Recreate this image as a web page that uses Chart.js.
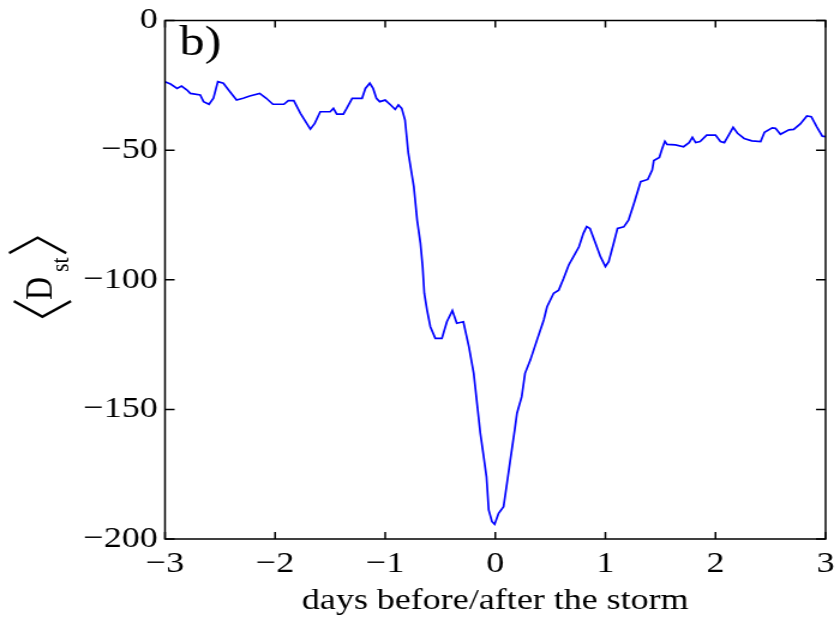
<!DOCTYPE html>
<html>
<head>
<meta charset="utf-8">
<script src="https://cdn.jsdelivr.net/npm/chart.js@4.4.1/dist/chart.umd.min.js"></script>
<style>
  html, body { margin: 0; padding: 0; background: #fff; overflow: hidden; }
  /* the reference is a slightly widened figure, so the canvas is stretched sideways */
  #chart { display: block; transform: scaleX(1.2); transform-origin: 0 0; }
</style>
</head>
<body>
<canvas id="chart" width="697" height="623"></canvas>
<script>
// days relative to storm onset
const days = [
  -3.00, -2.95, -2.89, -2.85, -2.80, -2.77, -2.68, -2.65, -2.60, -2.56,
  -2.52, -2.47, -2.41, -2.35, -2.29, -2.23, -2.14, -2.08, -2.02, -1.92,
  -1.88, -1.83, -1.77, -1.68, -1.64, -1.59, -1.50, -1.47, -1.44, -1.38,
  -1.35, -1.30, -1.21, -1.18, -1.14, -1.11, -1.08, -1.05, -1.00, -0.95,
  -0.91, -0.88, -0.85, -0.82, -0.79, -0.74, -0.71, -0.68, -0.66, -0.645,
  -0.62, -0.59, -0.545, -0.485, -0.44, -0.39, -0.35, -0.29, -0.24, -0.196,
  -0.166, -0.136, -0.11, -0.08, -0.06, -0.03, -0.006, 0.03, 0.075, 0.106,
  0.145, 0.176, 0.197, 0.24, 0.27, 0.318, 0.379, 0.44, 0.47, 0.53,
  0.576, 0.62, 0.667, 0.71, 0.76, 0.80, 0.83, 0.86, 0.91, 0.955,
  1.00, 1.03, 1.075, 1.11, 1.167, 1.21, 1.26, 1.32, 1.385, 1.425,
  1.44, 1.49, 1.515, 1.54, 1.56, 1.636, 1.71, 1.76, 1.79, 1.82,
  1.86, 1.92, 2.00, 2.045, 2.08, 2.12, 2.16, 2.20, 2.26, 2.33,
  2.41, 2.445, 2.515, 2.545, 2.59, 2.667, 2.71, 2.77, 2.83, 2.87,
  2.92, 2.97, 3.00
];

// mean Dst (nT)
const dst = [
  -23.6, -24.5, -26.2, -25.3, -26.8, -28.1, -28.7, -31.3, -32.3, -30.0,
  -23.6, -24.2, -27.5, -30.7, -30.0, -29.1, -28.1, -30.0, -32.3, -32.3,
  -30.9, -30.9, -35.8, -41.9, -39.7, -35.2, -35.2, -33.9, -36.1, -36.1,
  -33.9, -30.0, -30.0, -26.2, -24.2, -26.2, -30.0, -31.3, -30.7, -32.6,
  -34.3, -32.6, -33.9, -38.4, -51.2, -64.1, -77.0, -85.9, -95.0, -105.2,
  -111.7, -118.1, -122.6, -122.6, -116.2, -111.9, -116.8, -116.2, -125.8, -136.1,
  -147.7, -159.2, -166.9, -176.0, -188.8, -193.3, -194.3, -190.1, -187.5, -178.5,
  -167.0, -158.0, -151.5, -145.1, -136.1, -131.0, -123.2, -115.5, -110.4, -105.2,
  -104.0, -99.5, -94.3, -91.1, -87.3, -82.1, -79.5, -80.2, -85.9, -91.1,
  -94.9, -93.0, -85.9, -80.2, -79.6, -77.0, -70.5, -62.2, -61.3, -57.7,
  -54.0, -52.8, -49.5, -46.6, -47.8, -48.0, -48.7, -47.1, -45.1, -47.1,
  -46.7, -44.2, -44.2, -46.7, -47.1, -44.2, -41.2, -43.5, -45.5, -46.4,
  -46.7, -43.1, -41.4, -41.6, -43.9, -42.2, -42.0, -39.9, -36.8, -37.1,
  -41.0, -44.6, -44.8
];

const xTicks = [-3, -2, -1, 0, 1, 2, 3];
const yTicks = [0, -50, -100, -150, -200];
const xTitle = "days before/after the storm";
const panelLabel = "b)";

const serif = '"Liberation Serif", "Times New Roman", serif';

// draw one glyph so that its ink fills the box [x0,x1] x [y0,y1]
function fitGlyph(ctx, ch, weight, family, x0, x1, y0, y1) {
    ctx.font = weight + " 100px " + family;
    let m = ctx.measureText(ch);
    const h = m.actualBoundingBoxAscent + m.actualBoundingBoxDescent;
    const size = 100 * (y1 - y0) / h;
    ctx.font = weight + " " + size.toFixed(1) + "px " + family;
    m = ctx.measureText(ch);
    const w = m.actualBoundingBoxLeft + m.actualBoundingBoxRight;
    const cx = (x0 + x1) / 2;
    ctx.fillText(ch, cx - w / 2 + m.actualBoundingBoxLeft, y0 + m.actualBoundingBoxAscent);
}

// box, inward ticks, panel label and the <D_st> axis label
const framePlugin = {
    id: "frame",
    afterDraw(chart) {
        const ctx = chart.ctx;
        const a = chart.chartArea;
        const x = chart.scales.x;
        const y = chart.scales.y;
        ctx.save();
        ctx.strokeStyle = "#000";
        ctx.lineWidth = 1.5;
        ctx.strokeRect(a.left, a.top, a.right - a.left, a.bottom - a.top);
        ctx.beginPath();
        xTicks.forEach(function (v) {
            const px = x.getPixelForValue(v);
            ctx.moveTo(px, a.bottom); ctx.lineTo(px, a.bottom - 7);
            ctx.moveTo(px, a.top); ctx.lineTo(px, a.top + 7);
        });
        yTicks.forEach(function (v) {
            const py = y.getPixelForValue(v);
            ctx.moveTo(a.left, py); ctx.lineTo(a.left + 8, py);
            ctx.moveTo(a.right, py); ctx.lineTo(a.right - 8, py);
        });
        ctx.stroke();

        ctx.fillStyle = "#000";
        ctx.textBaseline = "alphabetic";
        ctx.textAlign = "left";
        ctx.font = "42px " + serif;
        ctx.fillText(panelLabel, a.left + 12, 55);

        // rotated y label
        ctx.translate(43, 300);
        ctx.rotate(-Math.PI / 2);
        ctx.font = "32px " + serif;
        ctx.fillText("D", 0, 0);
        ctx.font = "22px " + serif;
        ctx.fillText("st", 28, 14);
        const fam = '"Noto Sans CJK SC"';
        fitGlyph(ctx, "\u3008", "300", fam, -22, 3, -32, 17);
        fitGlyph(ctx, "\u3009", "300", fam, 42, 67, -36, 13);
        ctx.restore();
    }
};

new Chart(document.getElementById("chart").getContext("2d"), {
    type: "line",
    data: {
        datasets: [
            {
                label: "Dst",
                data: days.map(function (d, i) { return { x: d, y: dst[i] }; }),
                borderColor: "#0000ff",
                borderWidth: 1.7,
                pointRadius: 0,
                tension: 0,
                fill: false
            }
        ]
    },
    options: {
        responsive: false,
        animation: false,
        devicePixelRatio: 1,
        layout: { padding: { left: 0, right: 9, top: 20.5, bottom: 0 } },
        plugins: {
            legend: { display: false },
            tooltip: { enabled: false }
        },
        scales: {
            x: {
                type: "linear",
                min: -3,
                max: 3,
                grid: { display: false, drawTicks: false },
                border: { display: false },
                afterFit: function (s) {
                    s.height = 84;
                    s.paddingLeft = 0;
                    s.paddingRight = 0;
                },
                afterBuildTicks: function (s) { s.ticks = xTicks.map(function (v) { return { value: v }; }); },
                ticks: {
                    padding: 7,
                    color: "#000",
                    font: { family: serif, size: 30 },
                    callback: function (v) { return String(v).replace("-", "\u2212"); }
                },
                title: {
                    display: true,
                    text: xTitle,
                    color: "#000",
                    font: { family: serif, size: 30 },
                    padding: { top: 0, bottom: 4 }
                }
            },
            y: {
                type: "linear",
                min: -200,
                max: 0,
                grid: { display: false, drawTicks: false },
                border: { display: false },
                afterFit: function (s) {
                    s.width = 137.5;
                    s.paddingTop = 0;
                    s.paddingBottom = 0;
                },
                afterBuildTicks: function (s) { s.ticks = yTicks.map(function (v) { return { value: v }; }); },
                ticks: {
                    padding: 6,
                    color: "#000",
                    font: { family: serif, size: 30 },
                    callback: function (v) { return String(v).replace("-", "\u2212"); }
                }
            }
        }
    },
    plugins: [framePlugin]
});
</script>
</body>
</html>
